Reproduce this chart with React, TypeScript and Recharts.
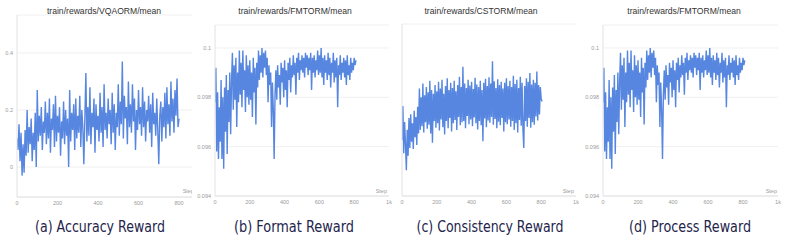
import React from "react";
import { LineChart, Line, XAxis, YAxis, CartesianGrid } from "recharts";

// mean reward per logging interval (every 5 steps)
const accuracyReward = [
  0.10, 0.06, 0.15, 0.02, 0.12, -0.03, 0.08, -0.02, 0.13, 0.04,
  0.20, 0.05, 0.14, 0.08, 0.17, 0.02, 0.12, 0.06, 0.19, 0.00,
  0.27, 0.09, 0.18, 0.11, 0.21, 0.06, 0.16, 0.12, 0.23, 0.08,
  0.19, 0.10, 0.24, 0.05, 0.17, 0.13, 0.22, 0.07, 0.25, 0.09,
  0.18, 0.12, 0.21, 0.04, 0.16, 0.10, 0.23, 0.08, 0.20, 0.11,
  0.17, 0.00, 0.27, 0.09, 0.19, 0.13, 0.22, 0.06, 0.24, 0.10,
  0.18, 0.12, 0.25, 0.07, 0.20, 0.14, 0.01, 0.17, 0.33, 0.09,
  0.21, 0.11, 0.28, 0.08, 0.19, 0.14, 0.24, 0.05, 0.22, 0.13,
  0.18, 0.09, 0.26, 0.12, 0.21, 0.07, 0.29, 0.13, 0.19, 0.10,
  0.24, 0.15, 0.20, 0.08, 0.26, 0.12, 0.22, 0.06, 0.19, 0.14,
  0.29, 0.11, 0.23, 0.15, 0.37, 0.10, 0.25, 0.17, 0.21, 0.08,
  0.30, 0.14, 0.22, 0.12, 0.29, 0.16, 0.24, 0.06, 0.20, 0.13,
  0.27, 0.15, 0.21, 0.11, 0.28, 0.14, 0.23, 0.09, 0.20, 0.16,
  0.25, 0.12, 0.22, 0.07, 0.26, 0.15, 0.19, 0.11, 0.24, 0.13,
  0.01, 0.18, 0.23, 0.09, 0.21, 0.14, 0.26, 0.10, 0.28, 0.15,
  0.22, 0.11, 0.30, 0.16, 0.24, 0.12, 0.27, 0.18, 0.31, 0.14,
  0.17,
];

// FMTORM is logged for both the format and the process panels
const formatReward = [
  0.0978, 0.0992, 0.0958, 0.0982, 0.0955, 0.0976, 0.0962, 0.0987, 0.0955, 0.0980,
  0.0951, 0.0984, 0.0966, 0.0989, 0.0957, 0.0983, 0.0970, 0.0990, 0.0965, 0.0986,
  0.0998, 0.0975, 0.0993, 0.0979, 0.0996, 0.0968, 0.0990, 0.0978, 0.0999, 0.0981,
  0.0994, 0.0976, 0.0999, 0.0983, 0.0991, 0.0974, 0.0997, 0.0980, 0.0993, 0.0977,
  0.0995, 0.0979, 0.0990, 0.0972, 0.0996, 0.0982, 0.0992, 0.0969, 0.0994, 0.0984,
  0.0999, 0.0987, 0.0997, 0.0990, 0.1000, 0.0988, 0.0998, 0.0992, 0.0999, 0.0989,
  0.0996, 0.0978, 0.0993, 0.0985, 0.0990, 0.0968, 0.0986, 0.0975, 0.0955, 0.0981,
  0.0991, 0.0979, 0.0993, 0.0984, 0.0989, 0.0977, 0.0994, 0.0986, 0.0992, 0.0980,
  0.0995, 0.0983, 0.0991, 0.0976, 0.0994, 0.0987, 0.0996, 0.0982, 0.0993, 0.0988,
  0.0997, 0.0989, 0.0994, 0.0981, 0.0996, 0.0990, 0.0998, 0.0987, 0.0995, 0.0991,
  0.0997, 0.0990, 0.0996, 0.0988, 0.0998, 0.0992, 0.0997, 0.0989, 0.0996, 0.0991,
  0.0998, 0.0983, 0.0996, 0.0990, 0.0997, 0.0988, 0.0995, 0.0991, 0.0999, 0.0989,
  0.0997, 0.0990, 0.1000, 0.0988, 0.0996, 0.0985, 0.0997, 0.0990, 0.0995, 0.0987,
  0.0998, 0.0989, 0.0996, 0.0984, 0.0994, 0.0990, 0.0998, 0.0986, 0.0995, 0.0988,
  0.0996, 0.0976, 0.0993, 0.0989, 0.0997, 0.0987, 0.0994, 0.0990, 0.0996, 0.0988,
  0.0995, 0.0985, 0.0997, 0.0989, 0.0993, 0.0987, 0.0996, 0.0990, 0.0994, 0.0991,
  0.0996, 0.0993, 0.0995,
];

const consistencyReward = [
  0.075, 0.141, 0.050, 0.110, 0.068, 0.017, 0.095, 0.045, 0.118, 0.060,
  0.125, 0.072, 0.108, 0.058, 0.132, 0.081, 0.120, 0.066, 0.140, 0.088,
  0.175, 0.095, 0.158, 0.102, 0.185, 0.090, 0.162, 0.110, 0.178, 0.097,
  0.168, 0.105, 0.190, 0.088, 0.172, 0.070, 0.165, 0.112, 0.182, 0.099,
  0.170, 0.108, 0.188, 0.094, 0.175, 0.115, 0.192, 0.100, 0.165, 0.086,
  0.180, 0.112, 0.195, 0.098, 0.172, 0.118, 0.186, 0.092, 0.176, 0.108,
  0.190, 0.114, 0.170, 0.095, 0.182, 0.120, 0.198, 0.104, 0.178, 0.110,
  0.217, 0.112, 0.185, 0.098, 0.176, 0.122, 0.192, 0.106, 0.181, 0.115,
  0.188, 0.102, 0.174, 0.119, 0.196, 0.108, 0.183, 0.096, 0.178, 0.112,
  0.190, 0.104, 0.172, 0.073, 0.186, 0.117, 0.194, 0.100, 0.180, 0.113,
  0.197, 0.109, 0.185, 0.120, 0.228, 0.105, 0.189, 0.116, 0.176, 0.098,
  0.193, 0.111, 0.182, 0.104, 0.188, 0.118, 0.175, 0.092, 0.186, 0.110,
  0.195, 0.106, 0.180, 0.115, 0.190, 0.101, 0.178, 0.112, 0.200, 0.095,
  0.184, 0.108, 0.192, 0.090, 0.176, 0.114, 0.198, 0.103, 0.186, 0.097,
  0.060, 0.180, 0.112, 0.195, 0.101, 0.188, 0.118, 0.205, 0.099, 0.183,
  0.110, 0.192, 0.105, 0.186, 0.121, 0.208, 0.113, 0.182, 0.125, 0.178,
  0.155, 0.150,
];

const LOG_EVERY = 5;

const stepTicks = [0, 200, 400, 600, 800];
const stepTicksK = [0, 200, 400, 600, 800, 1000];
const accuracyTicks = [0, 0.2, 0.4];
const formatTicks = [0.094, 0.096, 0.098, 0.1];
const consistencyTicks = [0, 0.1, 0.2, 0.3];

const titles = [
  "train/rewards/VQAORM/mean",
  "train/rewards/FMTORM/mean",
  "train/rewards/CSTORM/mean",
  "train/rewards/FMTORM/mean",
];
const captions = [
  "(a) Accuracy Reward",
  "(b) Format Reward",
  "(c) Consistency Reward",
  "(d) Process Reward",
];

const toRows = (values: number[]) =>
  values.map((v, i) => ({ step: i * LOG_EVERY, value: v }));

const LINE = "#5686e0";
const AXIS = "#e2e2e2";
const GRID = "#f0f0f0";
const TICK = { fontSize: 5.5, fill: "#9a9a9a", fontFamily: "Liberation Sans, Arial, sans-serif" };

type PanelProps = {
  left: number;
  width: number;
  axisWidth: number;
  top: number;
  plotBottom: number;
  rightPad: number;
  values: number[];
  xDomain: [number, number];
  xTicks: number[];
  yDomain: [number, number];
  yTicks: number[];
  showYLabels: boolean;
};

function Panel(p: PanelProps) {
  const xAxisHeight = 12;
  return (
    <div style={{ position: "absolute", left: p.left, top: 0 }}>
      <LineChart
        width={p.width}
        height={p.plotBottom + xAxisHeight}
        data={toRows(p.values)}
        margin={{ top: p.top, right: p.rightPad, bottom: 0, left: 0 }}
      >
        <CartesianGrid vertical={false} stroke={GRID} />
        <XAxis
          dataKey="step"
          type="number"
          domain={p.xDomain}
          ticks={p.xTicks}
          allowDataOverflow
          height={xAxisHeight}
          tickLine={false}
          tickSize={2}
          tickMargin={2}
          axisLine={{ stroke: AXIS }}
          tick={TICK}
          tickFormatter={(v: number) => (v === 1000 ? "1k" : String(v))}
          interval={0}
        />
        <YAxis
          type="number"
          domain={p.yDomain}
          ticks={p.yTicks}
          allowDataOverflow
          width={p.axisWidth}
          tickLine={false}
          tickSize={2}
          tickMargin={2}
          axisLine={{ stroke: AXIS }}
          tick={p.showYLabels ? TICK : false}
          interval={0}
        />
        <Line
          type="linear"
          dataKey="value"
          stroke={LINE}
          strokeWidth={1.4}
          strokeLinejoin="miter"
          dot={false}
          isAnimationActive={false}
        />
      </LineChart>
    </div>
  );
}

const titleX = [104, 295, 481, 684];
const captionX = [100, 294, 490, 690];
const captionW = [130, 120, 147, 122];
const stepLabelEnd = [194, 387, 574, 777];

export default function App() {
  return (
    <div
      style={{
        position: "fixed",
        left: 0,
        top: 0,
        width: 787,
        height: 241,
        background: "#fff",
        overflow: "hidden",
      }}
    >
      <Panel
        left={0}
        width={192}
        axisWidth={17}
        top={15}
        plotBottom={197}
        rightPad={0}
        values={accuracyReward}
        xDomain={[0, 864]}
        xTicks={stepTicks}
        yDomain={[-0.105, 0.533]}
        yTicks={accuracyTicks}
        showYLabels
      />
      <Panel
        left={195}
        width={200}
        axisWidth={20}
        top={25}
        plotBottom={196}
        rightPad={6}
        values={formatReward}
        xDomain={[0, 1000]}
        xTicks={stepTicksK}
        yDomain={[0.094, 0.10093]}
        yTicks={formatTicks}
        showYLabels
      />
      <Panel
        left={390}
        width={192}
        axisWidth={12}
        top={24}
        plotBottom={196}
        rightPad={6}
        values={consistencyReward}
        xDomain={[0, 1000]}
        xTicks={stepTicksK}
        yDomain={[-0.033, 0.3]}
        yTicks={consistencyTicks}
        showYLabels={false}
      />
      <Panel
        left={585}
        width={199}
        axisWidth={18}
        top={25}
        plotBottom={196}
        rightPad={6}
        values={formatReward}
        xDomain={[0, 1000]}
        xTicks={stepTicksK}
        yDomain={[0.094, 0.10093]}
        yTicks={formatTicks}
        showYLabels
      />
      <svg
        width={787}
        height={241}
        style={{ position: "absolute", left: 0, top: 0, pointerEvents: "none" }}
      >
        {titles.map((t, i) => (
          <text
            key={"t" + i}
            x={titleX[i]}
            y={14}
            textAnchor="middle"
            fontSize={8.6}
            fill="#333"
            fontFamily="Liberation Sans, Arial, sans-serif"
          >
            {t}
          </text>
        ))}
        {/* the first panel's axis name runs under its neighbour */}
        <svg x={0} y={0} width={192} height={241}>
          <text x={stepLabelEnd[0]} y={193} textAnchor="end" {...TICK}>
            Step
          </text>
        </svg>
        {stepLabelEnd.slice(1).map((x, i) => (
          <text key={"s" + i} x={x} y={193} textAnchor="end" {...TICK}>
            Step
          </text>
        ))}
        {captions.map((c, i) => (
          <text
            key={"c" + i}
            x={captionX[i]}
            y={232}
            textAnchor="middle"
            fontSize={16}
            fill="#23234b"
            textLength={captionW[i]}
            lengthAdjust="spacingAndGlyphs"
            fontFamily='"Comic Sans MS", "DejaVu Sans", sans-serif'
          >
            {c}
          </text>
        ))}
      </svg>
    </div>
  );
}
